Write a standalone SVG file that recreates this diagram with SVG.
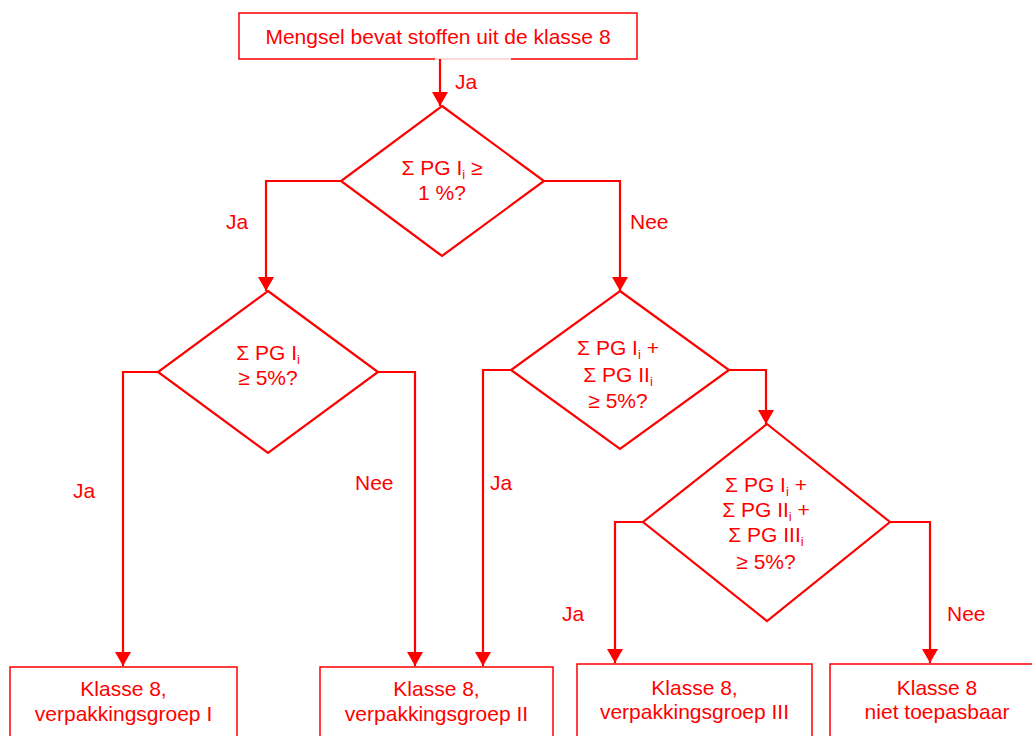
<svg xmlns="http://www.w3.org/2000/svg" width="1032" height="736" viewBox="0 0 1032 736">
<style>
  .box{fill:#fff;stroke:#ff0000;stroke-width:1.5}
  .dia{fill:#fff;stroke:#ff0000;stroke-width:2.2}
  .con{fill:none;stroke:#ff0000;stroke-width:2.2}
  text{font-family:"Liberation Sans",Arial,sans-serif;font-size:21px;fill:#ff0000}
  .c{text-anchor:middle}
  .sub{font-size:13px}
</style>
<defs>
  <marker id="ah" markerUnits="userSpaceOnUse" markerWidth="16" markerHeight="18" refX="14" refY="8" orient="auto">
    <path d="M0,0 L14,8 L0,16 z" fill="#ff0000"/>
  </marker>
</defs>
<rect width="1032" height="736" fill="#fff"/>

<g id="start">
  <rect class="box" x="239" y="13" width="398" height="46"/>
  <line x1="435" y1="59" x2="511" y2="59" stroke="#ffdcdc" stroke-width="2"/>
  <text class="c" x="438" y="44">Mengsel bevat stoffen uit de klasse 8</text>
</g>

<g id="connectors">
  <path class="con" d="M440,59 L440,106" marker-end="url(#ah)"/>
  <path class="con" d="M341,181 L266,181 L266,291" marker-end="url(#ah)"/>
  <path class="con" d="M544,181 L620,181 L620,291" marker-end="url(#ah)"/>
  <path class="con" d="M158,372 L123,372 L123,666" marker-end="url(#ah)"/>
  <path class="con" d="M378,372 L415,372 L415,666" marker-end="url(#ah)"/>
  <path class="con" d="M511,370 L483,370 L483,666" marker-end="url(#ah)"/>
  <path class="con" d="M729,370 L766,370 L766,424" marker-end="url(#ah)"/>
  <path class="con" d="M643,522 L615,522 L615,663" marker-end="url(#ah)"/>
  <path class="con" d="M890,522 L930,522 L930,663" marker-end="url(#ah)"/>
  <text x="455" y="89">Ja</text>
  <text x="226" y="229">Ja</text>
  <text x="630" y="229">Nee</text>
  <text x="73" y="498">Ja</text>
  <text x="355" y="490">Nee</text>
  <text x="490" y="490">Ja</text>
  <text x="562" y="621">Ja</text>
  <text x="947" y="621">Nee</text>
</g>

<g id="d1">
  <polygon class="dia" points="442,106 544,181 442,256 341,181"/>
  <text class="c" x="442" y="175">Σ PG I<tspan class="sub" dy="4">i</tspan><tspan dy="-4"> ≥</tspan></text>
  <text class="c" x="442" y="200">1 %?</text>
</g>

<g id="d2">
  <polygon class="dia" points="268,291 378,372 268,453 158,372"/>
  <text class="c" x="268" y="360">Σ PG I<tspan class="sub" dy="4">i</tspan></text>
  <text class="c" x="268" y="385">≥ 5%?</text>
</g>

<g id="d3">
  <polygon class="dia" points="620,291 729,370 620,449 511,370"/>
  <text class="c" x="618" y="355">Σ PG I<tspan class="sub" dy="4">i</tspan><tspan dy="-4"> +</tspan></text>
  <text class="c" x="618" y="382">Σ PG II<tspan class="sub" dy="4">i</tspan></text>
  <text class="c" x="618" y="408">≥ 5%?</text>
</g>

<g id="d4">
  <polygon class="dia" points="767,424 890,522 767,621 643,522"/>
  <text class="c" x="766" y="492">Σ PG I<tspan class="sub" dy="4">i</tspan><tspan dy="-4"> +</tspan></text>
  <text class="c" x="766" y="517">Σ PG II<tspan class="sub" dy="4">i</tspan><tspan dy="-4"> +</tspan></text>
  <text class="c" x="766" y="542">Σ PG III<tspan class="sub" dy="4">i</tspan></text>
  <text class="c" x="766" y="569">≥ 5%?</text>
</g>

<g id="pg1">
  <rect class="box" x="10" y="667" width="227" height="80"/>
  <text class="c" x="123.5" y="696">Klasse 8,</text>
  <text class="c" x="123.5" y="721">verpakkingsgroep I</text>
</g>

<g id="pg2">
  <rect class="box" x="320" y="667" width="233" height="80"/>
  <text class="c" x="436.5" y="696">Klasse 8,</text>
  <text class="c" x="436.5" y="721">verpakkingsgroep II</text>
</g>

<g id="pg3">
  <rect class="box" x="577" y="664" width="235" height="80"/>
  <text class="c" x="694.5" y="695">Klasse 8,</text>
  <text class="c" x="694.5" y="719">verpakkingsgroep III</text>
</g>

<g id="na">
  <rect class="box" x="830" y="664" width="214" height="80"/>
  <text class="c" x="937" y="695">Klasse 8</text>
  <text class="c" x="937" y="719">niet toepasbaar</text>
</g>
</svg>
